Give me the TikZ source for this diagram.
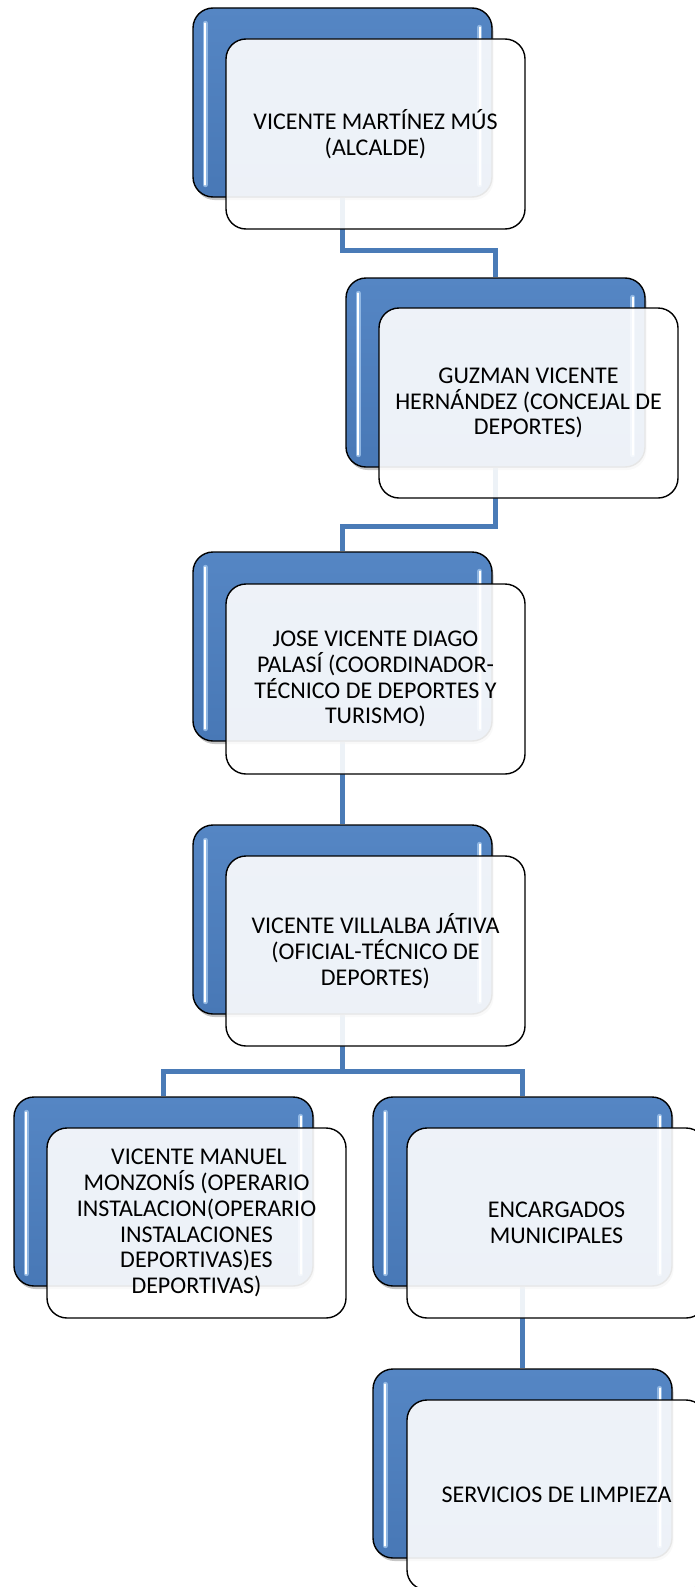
\documentclass[tikz,border=0pt]{standalone}
\usepackage{fontspec}
\setmainfont{Carlito}
\usetikzlibrary{shadows,calc}
\pgfdeclarelayer{connlayer}
\pgfsetlayers{connlayer,main}
\definecolor{blueA}{RGB}{85,134,196}
\definecolor{blueB}{RGB}{72,120,182}
\definecolor{conncol}{RGB}{74,123,183}
\definecolor{glowcol}{RGB}{160,196,236}
\begin{document}
\begin{tikzpicture}[x=1pt,y=-1pt,
  backbox/.style={rectangle, rounded corners=20pt, minimum width=299pt, minimum height=189pt,
    draw=black, line width=1.4pt, top color=blueA, bottom color=blueB, inner sep=0pt,
    drop shadow={opacity=0.45, shadow xshift=1.5pt, shadow yshift=-3pt}},
  frontbox/.style={rectangle, rounded corners=20pt, minimum width=299pt, minimum height=190pt,
    draw=black, line width=1.4pt, fill=white, fill opacity=0.9, text opacity=1,
    align=center, inner sep=0pt, font=\fontsize{24}{25.8}\selectfont},
  conn/.style={draw=conncol, line width=5pt},
  glowline/.style={draw=glowcol, line width=5pt, line cap=round, opacity=0.8},
  hiline/.style={draw=white, line width=2pt, line cap=round}]
\useasboundingbox (0,0) rectangle (695,1587);
\clip (0,0) rectangle (695,1587);

\path (342.5,102.5) coordinate (c1) (495.5,372.5) coordinate (c2)
      (342.5,646.5) coordinate (c3) (342.5,919.5) coordinate (c4)
      (163.5,1191.5) coordinate (c5) (522.5,1191.5) coordinate (c6)
      (522.5,1463.5) coordinate (c7);

% back boxes
\foreach \i in {1,...,7}{
  \node[backbox] (b\i) at (c\i) {};
}

% highlights on back boxes
\foreach \i in {1,...,7}{
  \draw[glowline] ($(b\i.north west)+(13,16)$) -- ($(b\i.south west)+(13,-13)$);
  \draw[hiline]   ($(b\i.north west)+(13,16)$) -- ($(b\i.south west)+(13,-13)$);
  \draw[glowline] ($(b\i.north east)+(-13,20)$) -- ($(b\i.south east)+(-13,-13)$);
  \draw[hiline]   ($(b\i.north east)+(-13,20)$) -- ($(b\i.south east)+(-13,-13)$);
}

% connectors (behind the boxes)
\begin{pgfonlayer}{connlayer}
\draw[conn] (b1.south) |- ($(b2.north)+(0,-27)$) -- (b2.north);
\draw[conn] (b2.south) |- ($(b3.north)+(0,-25)$) -- (b3.north);
\draw[conn] (b3.south) -- (b4.north);
\draw[conn] (b4.south) |- ($(b5.north)+(0,-25)$) -- (b5.north);
\draw[conn] (b4.south) |- ($(b6.north)+(0,-25)$) -- (b6.north);
\draw[conn] (b6.south) -- (b7.north);
\end{pgfonlayer}

% front boxes
\node[frontbox] (f1) at (375.5,134) {VICENTE MARTÍNEZ MÚS\\(ALCALDE)};
\node[frontbox] (f2) at (528.5,403) {GUZMAN VICENTE\\HERNÁNDEZ (CONCEJAL DE\\DEPORTES)};
\node[frontbox] (f3) at (375.5,679) {JOSE VICENTE DIAGO\\PALASÍ (COORDINADOR-\\TÉCNICO DE DEPORTES Y\\TURISMO)};
\node[frontbox] (f4) at (375.5,951) {VICENTE VILLALBA JÁTIVA\\(OFICIAL-TÉCNICO DE\\DEPORTES)};
\node[frontbox] (f5) at (196.5,1223) {\hspace{5pt}VICENTE MANUEL\\MONZONÍS (OPERARIO\\INSTALACION(OPERARIO\\INSTALACIONES\\DEPORTIVAS)ES\\DEPORTIVAS)};
\node[frontbox] (f6) at (556.5,1223) {ENCARGADOS\\MUNICIPALES};
\node[frontbox] (f7) at (556.5,1495) {SERVICIOS DE LIMPIEZA};
\end{tikzpicture}
\end{document}
